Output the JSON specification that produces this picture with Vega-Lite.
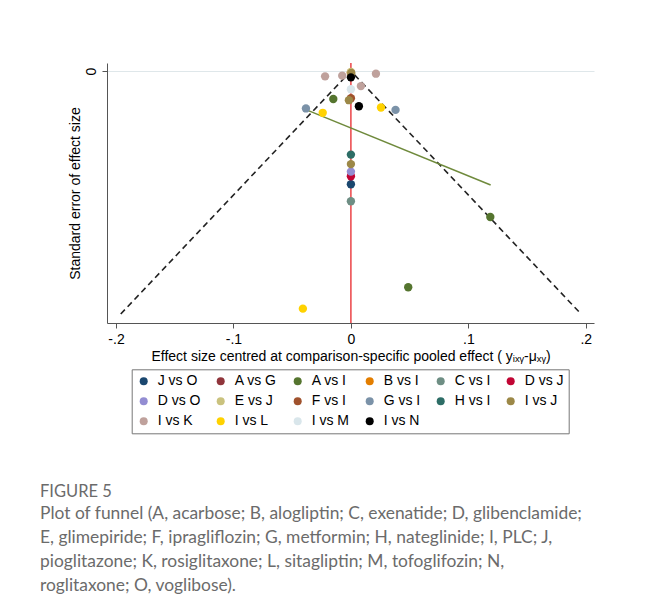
{
  "$schema": "https://vega.github.io/schema/vega-lite/v6.json",
  "width": 487,
  "height": 260,
  "autosize": {"type": "none"},
  "padding": {"left": 107, "top": 63, "right": 52, "bottom": 293},
  "background": "white",
  "config": {
    "view": {"stroke": null, "fill": "white"},
    "font": "Liberation Sans",
    "axis": {"domainColor": "#555555", "tickColor": "#555555", "labelColor": "#000000", "titleColor": "#000000", "labelFont": "Liberation Sans", "titleFont": "Liberation Sans", "titleFontWeight": "normal", "labelFontSize": 14, "titleFontSize": 14, "tickSize": 5}
  },
  "title": {
    "text": "FIGURE 5",
    "subtitle": [
      "Plot of funnel (A, acarbose; B, alogliptin; C, exenatide; D, glibenclamide;",
      "E, glimepiride; F, ipragliflozin; G, metformin; H, nateglinide; I, PLC; J,",
      "pioglitazone; K, rosiglitaxone; L, sitagliptin; M, tofoglifozin; N,",
      "roglitaxone; O, voglibose)."
    ],
    "orient": "bottom",
    "anchor": "start",
    "frame": "group",
    "dx": -67,
    "offset": 50,
    "font": "Lato",
    "fontSize": 16.5,
    "fontWeight": "normal",
    "color": "#6b6b6b",
    "subtitleFont": "Lato",
    "subtitleFontSize": 17.4,
    "subtitleColor": "#6b6b6b",
    "subtitleLineHeight": 24,
    "subtitlePadding": 5
  },
  "datasets": {
    "points": [
      {"comparison": "J vs O", "x": 0, "se": 0.0466},
      {"comparison": "A vs G", "x": 0, "se": 0.0008},
      {"comparison": "A vs I", "x": -0.015, "se": 0.0115},
      {"comparison": "A vs I", "x": 0.1187, "se": 0.0601},
      {"comparison": "A vs I", "x": 0.0488, "se": 0.089},
      {"comparison": "B vs I", "x": 0, "se": 0.0006},
      {"comparison": "C vs I", "x": 0, "se": 0.0536},
      {"comparison": "D vs J", "x": 0, "se": 0.0433},
      {"comparison": "D vs O", "x": 0, "se": 0.0414},
      {"comparison": "E vs J", "x": 0, "se": 0.0004},
      {"comparison": "F vs I", "x": 0, "se": 0.0112},
      {"comparison": "G vs I", "x": -0.0383, "se": 0.0154},
      {"comparison": "G vs I", "x": 0.038, "se": 0.016},
      {"comparison": "H vs I", "x": 0, "se": 0.0344},
      {"comparison": "I vs J", "x": 0.0003, "se": 0.0008},
      {"comparison": "I vs J", "x": -0.0017, "se": 0.012},
      {"comparison": "I vs J", "x": 0, "se": 0.0383},
      {"comparison": "I vs K", "x": -0.022, "se": 0.0022},
      {"comparison": "I vs K", "x": -0.0074, "se": 0.0019},
      {"comparison": "I vs K", "x": 0.0213, "se": 0.0011},
      {"comparison": "I vs K", "x": 0.0085, "se": 0.0062},
      {"comparison": "I vs L", "x": 0.0256, "se": 0.015},
      {"comparison": "I vs L", "x": -0.024, "se": 0.0172},
      {"comparison": "I vs L", "x": -0.0409, "se": 0.0978},
      {"comparison": "I vs M", "x": 0, "se": 0.0075},
      {"comparison": "I vs N", "x": 0, "se": 0.0026},
      {"comparison": "I vs N", "x": 0.0068, "se": 0.0145}
    ],
    "funnel": [
      {"x": -0.196, "se": 0.1},
      {"x": 0, "se": 0},
      {"x": 0.196, "se": 0.1}
    ],
    "egger": [
      {"x": -0.0378, "se": 0.016},
      {"x": 0.119, "se": 0.0469}
    ],
    "nullline": [
      {"x": 0, "se": -0.0033, "se2": 0.1037}
    ]
  },
  "encoding": {
    "x": {
      "field": "x",
      "type": "quantitative",
      "scale": {"domain": [-0.2077, 0.207], "nice": false, "zero": false},
      "axis": {
        "title": "Effect size centred at comparison-specific pooled effect ( yᵢₓᵧ-μₓᵧ)",
        "values": [-0.2, -0.1, 0, 0.1, 0.2],
        "labelExpr": "datum.value == 0 ? '0' : (datum.value < 0 ? '-' : '') + '.' + round(abs(datum.value) * 10)",
        "labelFlush": false,
        "labelPadding": 4,
        "titlePadding": 3,
        "grid": false
      }
    },
    "y": {
      "field": "se",
      "type": "quantitative",
      "scale": {"domain": [-0.0033, 0.1037], "reverse": true, "nice": false, "zero": false},
      "axis": {
        "title": "Standard error of effect size",
        "values": [0],
        "labelExpr": "'0'",
        "labelAngle": -90,
        "labelPadding": 4,
        "titlePadding": 2,
        "grid": true,
        "gridColor": "#dfe7ea",
        "gridWidth": 1
      }
    }
  },
  "layer": [
    {
      "data": {"name": "nullline"},
      "mark": {"type": "rule", "color": "#e8262a", "strokeWidth": 1.3},
      "encoding": {"y2": {"field": "se2"}}
    },
    {
      "data": {"name": "funnel"},
      "mark": {"type": "line", "color": "#222222", "strokeWidth": 1.6, "strokeDash": [6, 4]},
      "encoding": {}
    },
    {
      "data": {"name": "egger"},
      "mark": {"type": "line", "color": "#6f8a3c", "strokeWidth": 1.5},
      "encoding": {}
    },
    {
      "data": {"name": "points"},
      "mark": {"type": "point", "filled": true, "opacity": 1, "size": 70, "shape": "circle"},
      "encoding": {
        "color": {
          "field": "comparison",
          "type": "nominal",
          "scale": {
            "domain": ["J vs O", "A vs G", "A vs I", "B vs I", "C vs I", "D vs J", "D vs O", "E vs J", "F vs I", "G vs I", "H vs I", "I vs J", "I vs K", "I vs L", "I vs M", "I vs N"],
            "range": ["#1a476f", "#90353b", "#55752f", "#e37e00", "#6e8e84", "#c10534", "#938dd2", "#cac27e", "#a0522d", "#7b92a8", "#2d6d66", "#9c8847", "#bfa19c", "#ffd200", "#d9e6eb", "#000000"]
          },
          "legend": {
            "title": null,
            "orient": "none",
            "legendX": 24.7,
            "legendY": 306.3,
            "direction": "horizontal",
            "columns": 6,
            "symbolType": "circle",
            "symbolSize": 64,
            "symbolStrokeWidth": 0,
            "symbolOpacity": 1,
            "labelFont": "Liberation Sans",
            "labelFontSize": 14,
            "labelColor": "#000000",
            "labelOffset": 7,
            "columnPadding": 13,
            "rowPadding": 6,
            "padding": 5,
            "strokeColor": "#777777",
            "fillColor": "#ffffff"
          }
        }
      }
    }
  ]
}
